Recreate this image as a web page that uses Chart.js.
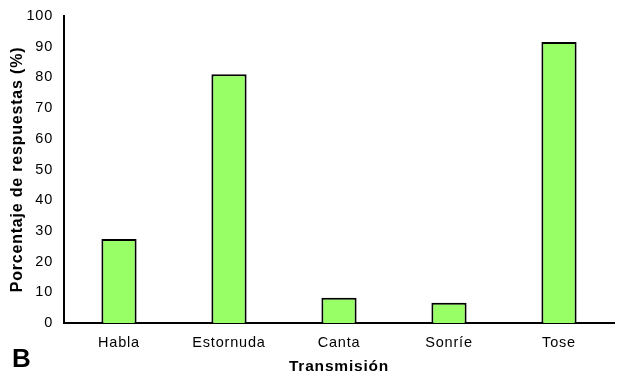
<!DOCTYPE html>
<html><head><meta charset="utf-8">
<script src="https://cdn.jsdelivr.net/npm/chart.js@4"></script>
<style>
html,body{margin:0;padding:0;background:#fff;}
#wrap{position:relative;width:625px;height:376px;}
#lbl{position:absolute;left:12px;top:345px;font:bold 26px/1 "Liberation Sans",Arial,sans-serif;color:#000;}
</style></head>
<body><div id="wrap"><canvas id="c" width="625" height="376"></canvas><div id="lbl">B</div></div>
<script>
const categories = ["Habla","Estornuda","Canta","Sonríe","Tose"];
const values = [27.4, 81.0, 8.2, 6.6, 91.5];
const xTitle = "Transmisión";
const yTitle = "Porcentaje de respuestas (%)";
const F = '"Liberation Sans", Arial, sans-serif';
const spacing = {
  id: 'spacing',
  beforeInit(chart) { chart.ctx.letterSpacing = '0.8px'; },
  beforeUpdate(chart) { chart.ctx.letterSpacing = '0.8px'; },
  beforeDraw(chart) { chart.ctx.letterSpacing = '0.8px'; }
};
new Chart(document.getElementById('c'), {
  type: 'bar',
  plugins: [spacing],
  data: { labels: categories, datasets: [{ data: values, backgroundColor: '#99FF66', borderColor: '#000', borderWidth: 2, barPercentage: 0.32, categoryPercentage: 1 }] },
  options: {
    responsive: false, animation: false,
    layout: { padding: { top: 16, right: 11, left: 0, bottom: 0 } },
    plugins: { legend: { display: false }, tooltip: { enabled: false } },
    scales: {
      x: { grid: { display: false, drawTicks: false }, border: { color: '#000', width: 2 },
           ticks: { color: '#000', font: { family: F, size: 14.5 }, padding: 11 },
           title: { display: true, text: xTitle, color: '#000', font: { family: F, size: 15.5, weight: 'bold' }, padding: { top: 0, bottom: 0 } },
           afterFit(s) { s.height = 53; } },
      y: { min: 0, max: 100, grid: { display: false, drawTicks: false }, border: { color: '#000', width: 2 },
           ticks: { stepSize: 10, color: '#000', font: { family: F, size: 14.5, lineHeight: 0.9 }, padding: 11 },
           title: { display: true, text: yTitle, color: '#000', font: { family: F, size: 16, weight: 'bold' }, padding: { top: 8, bottom: 0 } },
           afterFit(s) { s.width = 64; s.paddingTop = 0; } }
    }
  }
});
</script></body></html>
